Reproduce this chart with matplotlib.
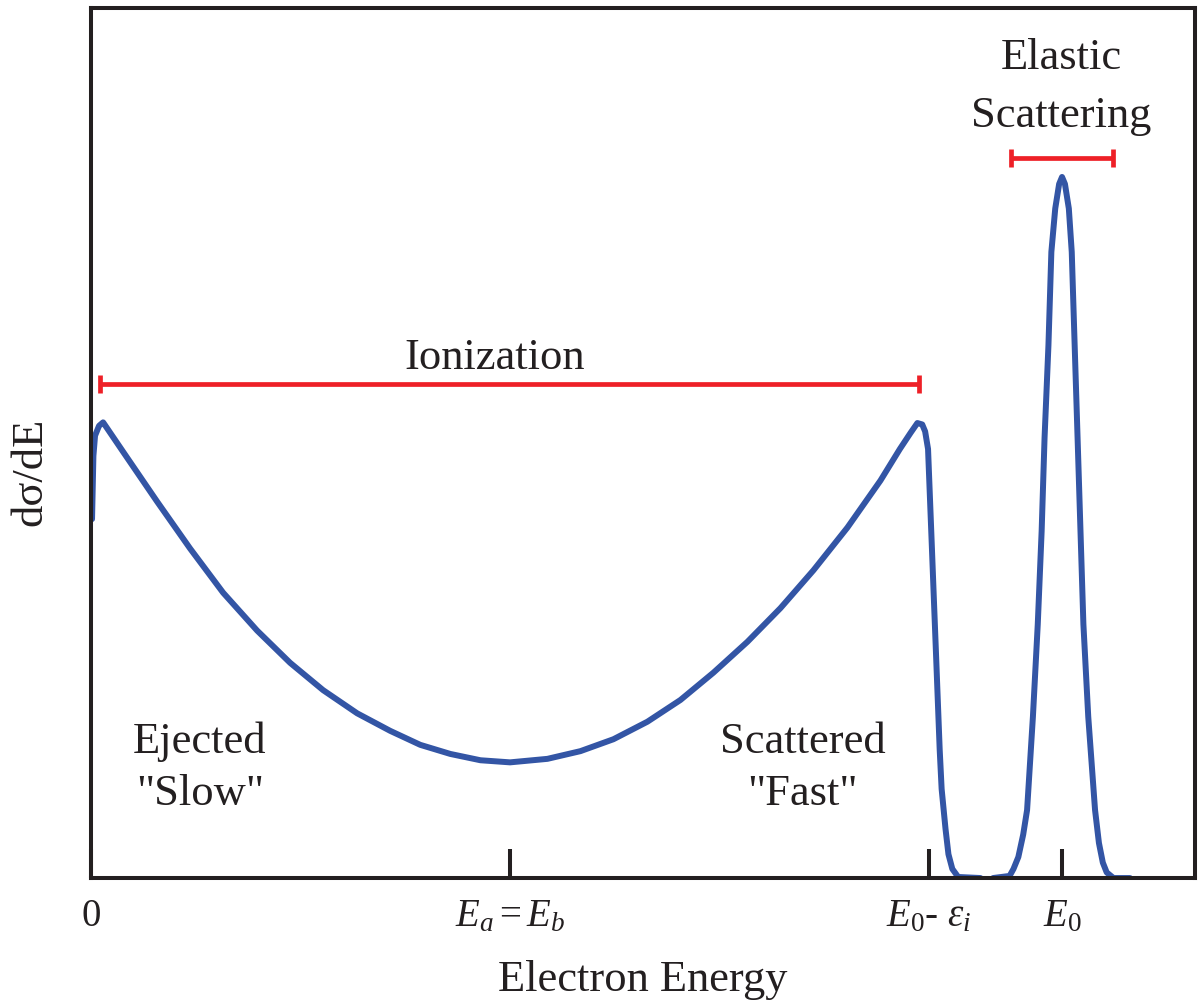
import numpy as np
import matplotlib
matplotlib.use("Agg")
import matplotlib.pyplot as plt

plt.rcParams['font.family'] = ['Liberation Serif', 'DejaVu Serif']
plt.rcParams['mathtext.fontset'] = 'custom'
plt.rcParams['mathtext.rm'] = 'Liberation Serif'
plt.rcParams['mathtext.it'] = 'Liberation Serif:italic'

# energies in units of E0, cross section in arbitrary units (elastic peak = 1)
ion_energy = [0.001, 0.0024, 0.0041, 0.0082, 0.0124, 0.033, 0.068, 0.102, 0.136,
              0.171, 0.205, 0.239, 0.274, 0.308, 0.339, 0.370, 0.401, 0.4315,
              0.470, 0.504, 0.538, 0.573, 0.607, 0.641, 0.676, 0.710, 0.744,
              0.779, 0.813, 0.833, 0.844, 0.851, 0.856, 0.859, 0.862, 0.864,
              0.866, 0.868, 0.870, 0.872, 0.874, 0.876, 0.880, 0.883, 0.887,
              0.893, 0.916]
ion_dsde = [0.512, 0.602, 0.631, 0.645, 0.650, 0.608, 0.537, 0.470, 0.407,
            0.353, 0.307, 0.268, 0.235, 0.210, 0.190, 0.177, 0.168, 0.165,
            0.170, 0.181, 0.198, 0.223, 0.254, 0.293, 0.337, 0.385, 0.439,
            0.500, 0.567, 0.612, 0.635, 0.649, 0.647, 0.637, 0.612, 0.541,
            0.470, 0.398, 0.327, 0.255, 0.183, 0.127, 0.070, 0.034, 0.013,
            0.0015, 0.0]

el_energy = [0.929, 0.946, 0.950, 0.955, 0.960, 0.964, 0.970, 0.975, 0.979,
             0.982, 0.986, 0.989, 0.993, 0.997, 1.0, 1.003, 1.007, 1.010,
             1.013, 1.016, 1.019, 1.022, 1.027, 1.034, 1.038, 1.042, 1.046,
             1.053, 1.070]
el_dsde = [0.0, 0.003, 0.013, 0.030, 0.062, 0.097, 0.230, 0.362, 0.495,
           0.628, 0.760, 0.893, 0.955, 0.990, 1.0, 0.990, 0.955, 0.893,
           0.760, 0.628, 0.495, 0.362, 0.230, 0.097, 0.050, 0.022, 0.008,
           0.0, 0.0]

tick_pos = [0, 0.4315, 0.863, 1.0]
tick_labels = ['0', r'$E_{\mathit{a}}=E_{\mathit{b}}$',
               r'$E_{\mathit{0}}$- $\varepsilon_{\mathit{i}}$', r'$E_{\mathit{0}}$']

# ranges marked with red bars: (start, end, height)
ion_range = (0.0093, 0.853, 0.705)
el_range = (0.9475, 1.0525, 1.027)

blue = '#3355a5'
red = '#ee2027'
ink = '#231f20'

fig = plt.figure(figsize=(12.03, 10.03), dpi=100)
ax = fig.add_axes([0.0757, 0.1236, 0.9177, 0.8674])

ax.plot(ion_energy, ion_dsde, color=blue, lw=4.3, solid_capstyle='round', solid_joinstyle='round')
ax.plot(el_energy, el_dsde, color=blue, lw=4.3, solid_capstyle='round', solid_joinstyle='round')

for a, b, h in [ion_range, el_range]:
    ax.errorbar((a + b) / 2, h, xerr=(b - a) / 2, color=red, lw=3.4,
                capsize=6.8, capthick=3.4, fmt='none')

ax.set_xlim(0, 1.137)
ax.set_ylim(0, 1.241)

for s in ax.spines.values():
    s.set_linewidth(2.9)
    s.set_color(ink)

ax.set_yticks([])
ax.set_xticks(tick_pos)
ax.set_xticklabels(tick_labels, fontsize=28, color=ink)
ax.tick_params(axis='x', direction='in', length=21, width=2.9, color=ink, pad=14)
ax.get_xticklabels()[0].set_x(-0.004)

ax.set_xlabel('Electron Energy', fontsize=32, color=ink, labelpad=18)
ax.set_ylabel('dσ/dE', fontsize=32, color=ink)
ax.yaxis.set_label_coords(-0.037, 0.468)

txt = dict(fontsize=32, color=ink, ha='center', va='center')
ax.text(0.416, 0.743, 'Ionization', **txt)
ax.text(0.999, 1.171, 'Elastic', **txt)
ax.text(0.999, 1.089, 'Scattering', **txt)
ax.text(0.112, 0.196, 'Ejected', **txt)
ax.text(0.112, 0.121, '"Slow"', **txt)
ax.text(0.733, 0.196, 'Scattered', **txt)
ax.text(0.733, 0.121, '"Fast"', **txt)

fig.savefig('out.png', dpi=100)
